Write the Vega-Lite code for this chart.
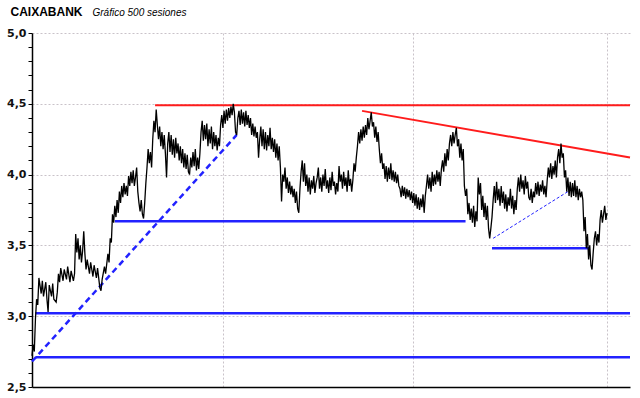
{
  "$schema": "https://vega.github.io/schema/vega-lite/v6.json",
  "autosize": {"type": "none"},
  "padding": {"left": 32, "top": 33, "right": 10, "bottom": 11},
  "width": 598,
  "height": 354,
  "background": "white",
  "config": {"view": {"stroke": null}},
  "datasets": {
    "price": [
      {"s":0,"p":2.72},{"s":1,"p":2.80},{"s":2,"p":2.75},{"s":3,"p":2.98},{"s":4,"p":3.12},{"s":5,"p":3.08},{"s":6,"p":3.27},{"s":8,"p":3.16},{"s":9,"p":3.25},{"s":10,"p":3.14},
      {"s":12,"p":3.24},{"s":13,"p":3.12},{"s":14,"p":3.03},{"s":15,"p":3.22},{"s":17,"p":3.14},{"s":18,"p":3.23},{"s":19,"p":3.12},{"s":21,"p":3.10},{"s":22,"p":3.17},{"s":23,"p":3.30},
      {"s":24,"p":3.24},{"s":25,"p":3.34},{"s":27,"p":3.25},{"s":28,"p":3.33},{"s":30,"p":3.26},{"s":31,"p":3.35},{"s":33,"p":3.24},{"s":34,"p":3.32},{"s":36,"p":3.25},{"s":37,"p":3.30},
      {"s":38,"p":3.58},{"s":39,"p":3.45},{"s":40,"p":3.55},{"s":41,"p":3.40},{"s":42,"p":3.50},{"s":43,"p":3.38},{"s":44,"p":3.46},{"s":45,"p":3.60},{"s":46,"p":3.44},{"s":47,"p":3.33},
      {"s":48,"p":3.40},{"s":50,"p":3.30},{"s":51,"p":3.38},{"s":53,"p":3.28},{"s":54,"p":3.36},{"s":56,"p":3.27},{"s":57,"p":3.34},{"s":59,"p":3.20},{"s":60,"p":3.18},{"s":61,"p":3.26},
      {"s":63,"p":3.35},{"s":64,"p":3.30},{"s":66,"p":3.44},{"s":67,"p":3.38},{"s":68,"p":3.55},{"s":69,"p":3.52},{"s":70,"p":3.72},{"s":71,"p":3.66},{"s":72,"p":3.78},{"s":73,"p":3.70},
      {"s":74,"p":3.82},{"s":75,"p":3.73},{"s":76,"p":3.88},{"s":77,"p":3.80},{"s":78,"p":3.92},{"s":79,"p":3.84},{"s":80,"p":3.94},{"s":81,"p":3.86},{"s":82,"p":3.92},{"s":83,"p":3.85},
      {"s":84,"p":3.99},{"s":85,"p":3.92},{"s":86,"p":4.02},{"s":87,"p":3.94},{"s":88,"p":4.03},{"s":89,"p":3.92},{"s":90,"p":3.98},{"s":91,"p":4.05},{"s":92,"p":3.88},{"s":93,"p":3.80},
      {"s":94,"p":3.74},{"s":95,"p":3.82},{"s":96,"p":3.72},{"s":97,"p":3.69},{"s":98,"p":3.80},{"s":99,"p":3.94},{"s":100,"p":4.05},{"s":101,"p":4.18},{"s":102,"p":4.08},{"s":103,"p":4.16},
      {"s":104,"p":4.05},{"s":105,"p":4.25},{"s":106,"p":4.38},{"s":107,"p":4.30},{"s":108,"p":4.46},{"s":109,"p":4.35},{"s":110,"p":4.25},{"s":111,"p":4.34},{"s":112,"p":4.20},{"s":113,"p":4.30},
      {"s":114,"p":4.18},{"s":115,"p":4.28},{"s":116,"p":4.15},{"s":117,"p":3.98},{"s":118,"p":4.22},{"s":119,"p":4.30},{"s":120,"p":4.16},{"s":121,"p":4.28},{"s":122,"p":4.14},{"s":123,"p":4.25},
      {"s":124,"p":4.12},{"s":125,"p":4.26},{"s":126,"p":4.15},{"s":127,"p":4.22},{"s":128,"p":4.10},{"s":129,"p":4.20},{"s":130,"p":4.08},{"s":131,"p":4.18},{"s":132,"p":4.05},{"s":133,"p":4.15},
      {"s":134,"p":4.04},{"s":135,"p":4.14},{"s":136,"p":4.02},{"s":137,"p":4.00},{"s":138,"p":4.12},{"s":139,"p":4.05},{"s":140,"p":4.16},{"s":141,"p":4.06},{"s":142,"p":4.18},{"s":143,"p":4.03},
      {"s":144,"p":4.12},{"s":145,"p":4.04},{"s":146,"p":4.15},{"s":147,"p":4.30},{"s":148,"p":4.38},{"s":149,"p":4.24},{"s":150,"p":4.35},{"s":151,"p":4.25},{"s":152,"p":4.36},{"s":153,"p":4.20},
      {"s":154,"p":4.32},{"s":155,"p":4.22},{"s":156,"p":4.34},{"s":157,"p":4.18},{"s":158,"p":4.30},{"s":159,"p":4.20},{"s":160,"p":4.28},{"s":161,"p":4.17},{"s":162,"p":4.26},{"s":163,"p":4.20},
      {"s":164,"p":4.35},{"s":165,"p":4.42},{"s":166,"p":4.33},{"s":167,"p":4.45},{"s":168,"p":4.36},{"s":169,"p":4.46},{"s":170,"p":4.38},{"s":171,"p":4.47},{"s":172,"p":4.40},{"s":173,"p":4.48},
      {"s":174,"p":4.42},{"s":175,"p":4.50},{"s":176,"p":4.44},{"s":177,"p":4.30},{"s":178,"p":4.28},{"s":179,"p":4.40},{"s":180,"p":4.45},{"s":181,"p":4.35},{"s":182,"p":4.46},{"s":183,"p":4.36},
      {"s":184,"p":4.44},{"s":185,"p":4.34},{"s":186,"p":4.45},{"s":187,"p":4.35},{"s":188,"p":4.42},{"s":189,"p":4.33},{"s":190,"p":4.40},{"s":191,"p":4.28},{"s":192,"p":4.36},{"s":193,"p":4.27},
      {"s":194,"p":4.34},{"s":195,"p":4.26},{"s":196,"p":4.30},{"s":197,"p":4.12},{"s":198,"p":4.25},{"s":199,"p":4.34},{"s":200,"p":4.20},{"s":201,"p":4.32},{"s":202,"p":4.18},{"s":203,"p":4.30},
      {"s":204,"p":4.17},{"s":205,"p":4.28},{"s":206,"p":4.20},{"s":207,"p":4.33},{"s":208,"p":4.18},{"s":209,"p":4.26},{"s":210,"p":4.16},{"s":211,"p":4.25},{"s":212,"p":4.12},{"s":213,"p":4.22},
      {"s":214,"p":4.10},{"s":215,"p":4.20},{"s":216,"p":4.05},{"s":217,"p":3.81},{"s":218,"p":4.00},{"s":219,"p":3.95},{"s":220,"p":4.05},{"s":221,"p":3.90},{"s":222,"p":3.98},{"s":223,"p":3.87},
      {"s":224,"p":3.95},{"s":225,"p":3.86},{"s":226,"p":3.92},{"s":227,"p":3.84},{"s":228,"p":3.90},{"s":229,"p":3.80},{"s":230,"p":3.88},{"s":231,"p":3.76},{"s":232,"p":3.73},{"s":233,"p":3.90},
      {"s":234,"p":4.02},{"s":235,"p":4.10},{"s":236,"p":3.95},{"s":237,"p":4.08},{"s":238,"p":3.92},{"s":239,"p":4.00},{"s":240,"p":3.88},{"s":241,"p":3.98},{"s":242,"p":3.86},{"s":243,"p":3.96},
      {"s":244,"p":3.90},{"s":245,"p":3.99},{"s":246,"p":3.87},{"s":247,"p":3.94},{"s":248,"p":3.98},{"s":249,"p":4.05},{"s":250,"p":3.90},{"s":251,"p":3.98},{"s":252,"p":3.88},{"s":253,"p":4.00},
      {"s":254,"p":3.92},{"s":255,"p":4.04},{"s":256,"p":3.90},{"s":257,"p":3.96},{"s":258,"p":3.87},{"s":259,"p":3.98},{"s":260,"p":3.89},{"s":261,"p":4.02},{"s":262,"p":3.92},{"s":263,"p":3.95},
      {"s":264,"p":3.86},{"s":265,"p":3.94},{"s":266,"p":3.88},{"s":267,"p":4.06},{"s":268,"p":3.95},{"s":269,"p":4.00},{"s":270,"p":3.90},{"s":271,"p":4.02},{"s":272,"p":3.92},{"s":273,"p":3.98},
      {"s":274,"p":3.88},{"s":275,"p":4.03},{"s":276,"p":3.92},{"s":277,"p":3.97},{"s":278,"p":3.88},{"s":279,"p":3.96},{"s":280,"p":4.08},{"s":281,"p":4.02},{"s":282,"p":4.12},{"s":283,"p":4.20},
      {"s":284,"p":4.30},{"s":285,"p":4.22},{"s":286,"p":4.32},{"s":287,"p":4.24},{"s":288,"p":4.34},{"s":289,"p":4.26},{"s":290,"p":4.35},{"s":291,"p":4.28},{"s":292,"p":4.40},{"s":293,"p":4.32},
      {"s":294,"p":4.38},{"s":295,"p":4.44},{"s":296,"p":4.34},{"s":297,"p":4.37},{"s":298,"p":4.26},{"s":299,"p":4.34},{"s":300,"p":4.23},{"s":301,"p":4.30},{"s":302,"p":4.18},{"s":303,"p":4.08},
      {"s":304,"p":4.15},{"s":305,"p":4.04},{"s":306,"p":4.08},{"s":307,"p":3.97},{"s":308,"p":4.06},{"s":309,"p":3.95},{"s":310,"p":4.05},{"s":311,"p":3.97},{"s":312,"p":4.08},{"s":313,"p":3.96},
      {"s":314,"p":4.03},{"s":315,"p":3.95},{"s":316,"p":4.02},{"s":317,"p":3.94},{"s":318,"p":4.00},{"s":319,"p":3.92},{"s":320,"p":3.90},{"s":321,"p":3.84},{"s":322,"p":3.92},{"s":323,"p":3.85},
      {"s":324,"p":3.91},{"s":325,"p":3.83},{"s":326,"p":3.90},{"s":327,"p":3.84},{"s":328,"p":3.89},{"s":329,"p":3.82},{"s":330,"p":3.88},{"s":331,"p":3.80},{"s":332,"p":3.87},{"s":333,"p":3.78},
      {"s":334,"p":3.86},{"s":335,"p":3.76},{"s":336,"p":3.84},{"s":337,"p":3.75},{"s":338,"p":3.83},{"s":339,"p":3.77},{"s":340,"p":3.86},{"s":341,"p":3.73},{"s":342,"p":3.85},{"s":343,"p":3.92},
      {"s":344,"p":4.00},{"s":345,"p":3.90},{"s":346,"p":3.98},{"s":347,"p":3.88},{"s":348,"p":4.02},{"s":349,"p":3.92},{"s":350,"p":4.00},{"s":351,"p":3.93},{"s":352,"p":4.03},{"s":353,"p":3.95},
      {"s":354,"p":4.02},{"s":355,"p":3.92},{"s":356,"p":4.04},{"s":357,"p":4.10},{"s":358,"p":4.02},{"s":359,"p":4.15},{"s":360,"p":4.06},{"s":361,"p":4.18},{"s":362,"p":4.10},{"s":363,"p":4.22},
      {"s":364,"p":4.28},{"s":365,"p":4.20},{"s":366,"p":4.30},{"s":367,"p":4.22},{"s":368,"p":4.28},{"s":369,"p":4.33},{"s":370,"p":4.20},{"s":371,"p":4.25},{"s":372,"p":4.12},{"s":373,"p":4.22},
      {"s":374,"p":4.10},{"s":375,"p":4.18},{"s":376,"p":3.92},{"s":377,"p":3.85},{"s":378,"p":3.90},{"s":379,"p":3.72},{"s":380,"p":3.80},{"s":381,"p":3.68},{"s":382,"p":3.76},{"s":383,"p":3.66},
      {"s":384,"p":3.78},{"s":385,"p":3.63},{"s":386,"p":3.74},{"s":387,"p":3.67},{"s":388,"p":3.98},{"s":389,"p":3.86},{"s":390,"p":3.94},{"s":391,"p":3.75},{"s":392,"p":3.85},{"s":393,"p":3.70},
      {"s":394,"p":3.80},{"s":395,"p":3.68},{"s":396,"p":3.78},{"s":397,"p":3.62},{"s":398,"p":3.55},{"s":399,"p":3.62},{"s":400,"p":3.70},{"s":401,"p":3.82},{"s":402,"p":3.92},{"s":403,"p":3.80},
      {"s":404,"p":3.95},{"s":405,"p":3.82},{"s":406,"p":3.90},{"s":407,"p":3.78},{"s":408,"p":3.92},{"s":409,"p":3.80},{"s":410,"p":3.88},{"s":411,"p":3.76},{"s":412,"p":3.86},{"s":413,"p":3.74},
      {"s":414,"p":3.84},{"s":415,"p":3.78},{"s":416,"p":3.90},{"s":417,"p":3.76},{"s":418,"p":3.85},{"s":419,"p":3.72},{"s":420,"p":3.82},{"s":421,"p":3.75},{"s":422,"p":3.90},{"s":423,"p":3.98},
      {"s":424,"p":3.88},{"s":425,"p":4.00},{"s":426,"p":3.90},{"s":427,"p":3.96},{"s":428,"p":3.86},{"s":429,"p":3.99},{"s":430,"p":3.90},{"s":431,"p":3.95},{"s":432,"p":3.84},{"s":433,"p":3.82},
      {"s":434,"p":3.90},{"s":435,"p":3.80},{"s":436,"p":3.88},{"s":437,"p":3.84},{"s":438,"p":3.94},{"s":439,"p":3.86},{"s":440,"p":3.95},{"s":441,"p":3.85},{"s":442,"p":3.93},{"s":443,"p":3.88},
      {"s":444,"p":3.96},{"s":445,"p":3.86},{"s":446,"p":3.92},{"s":447,"p":3.84},{"s":448,"p":3.96},{"s":449,"p":4.05},{"s":450,"p":3.98},{"s":451,"p":4.08},{"s":452,"p":3.97},{"s":453,"p":4.06},
      {"s":454,"p":4.00},{"s":455,"p":4.10},{"s":456,"p":3.98},{"s":457,"p":4.12},{"s":458,"p":4.18},{"s":459,"p":4.08},{"s":460,"p":4.22},{"s":461,"p":4.12},{"s":462,"p":4.15},{"s":463,"p":3.98},
      {"s":464,"p":4.03},{"s":465,"p":3.88},{"s":466,"p":3.98},{"s":467,"p":3.85},{"s":468,"p":3.95},{"s":469,"p":3.84},{"s":470,"p":3.94},{"s":471,"p":3.85},{"s":472,"p":3.96},{"s":473,"p":3.84},
      {"s":474,"p":3.92},{"s":475,"p":3.82},{"s":476,"p":3.90},{"s":477,"p":3.84},{"s":478,"p":3.88},{"s":479,"p":3.82},{"s":480,"p":3.60},{"s":481,"p":3.70},{"s":482,"p":3.48},{"s":483,"p":3.58},
      {"s":484,"p":3.40},{"s":485,"p":3.50},{"s":486,"p":3.36},{"s":487,"p":3.33},{"s":488,"p":3.45},{"s":489,"p":3.55},{"s":490,"p":3.60},{"s":491,"p":3.50},{"s":492,"p":3.58},{"s":493,"p":3.52},
      {"s":494,"p":3.68},{"s":495,"p":3.75},{"s":496,"p":3.66},{"s":497,"p":3.72},{"s":498,"p":3.78},{"s":499,"p":3.68},{"s":500,"p":3.73}
    ],
    "trend": [
      {"id":"r1","kind":"red","s":107,"v":4.49},{"id":"r1","kind":"red","s":520,"v":4.49},
      {"id":"r2","kind":"red","s":287,"v":4.45},{"id":"r2","kind":"red","s":520,"v":4.12},
      {"id":"b1","kind":"blue","s":72,"v":3.67},{"id":"b1","kind":"blue","s":377,"v":3.67},
      {"id":"b2","kind":"blue","s":3,"v":3.02},{"id":"b2","kind":"blue","s":520,"v":3.02},
      {"id":"b3","kind":"blue","s":3,"v":2.71},{"id":"b3","kind":"blue","s":520,"v":2.71},
      {"id":"b4","kind":"blue","s":400,"v":3.48},{"id":"b4","kind":"blue","s":485,"v":3.48},
      {"id":"d1","kind":"bdash","s":0,"v":2.68},{"id":"d1","kind":"bdash","s":178,"v":4.28},
      {"id":"t1","kind":"bthin","s":401,"v":3.55},{"id":"t1","kind":"bthin","s":466,"v":3.88}
    ]
  },
  "layer": [
    {
      "data": {"name": "trend"},
      "transform": [{"filter": "datum.kind == 'red'"}],
      "mark": {"type": "line", "color": "#ff1c1c", "strokeWidth": 2},
      "encoding": {
        "x": {
          "field": "s", "type": "quantitative",
          "scale": {"domain": [0, 520], "nice": false, "zero": false},
          "axis": {
            "values": [166, 331, 500],
            "tickCount": 10,
            "labels": false, "ticks": false,
            "grid": true, "gridColor": "#c9c2c9", "gridDash": [2, 2], "gridWidth": 1,
            "domain": true, "domainColor": "#000000", "domainWidth": 1.5,
            "title": "Gráfico 500 sesiones",
            "titleX": 60, "titleY": -372,
            "titleAlign": "left", "titleBaseline": "alphabetic", "titleAngle": 0,
            "titleFont": "Liberation Sans", "titleFontSize": 10, "titleFontStyle": "italic", "titleFontWeight": "normal", "titleColor": "#000000"
          }
        },
        "y": {
          "field": "v", "type": "quantitative",
          "scale": {"domain": [2.5, 5.0], "nice": false, "zero": false},
          "axis": {
            "values": [2.5,2.6,2.7,2.8,2.9,3.0,3.1,3.2,3.3,3.4,3.5,3.6,3.7,3.8,3.9,4.0,4.1,4.2,4.3,4.4,4.5,4.6,4.7,4.8,4.9,5.0],
            "tickCount": 40,
            "labelExpr": "abs(datum.value*2 - round(datum.value*2)) < 0.001 ? replace(format(datum.value, '.1f'), '.', ',') : ''",
            "labelFont": "DejaVu Sans", "labelFontSize": 11, "labelFontWeight": "bold", "labelColor": "#111111", "labelPadding": 2,
            "labelOverlap": false,
            "ticks": true, "tickColor": "#000000", "tickSize": 4, "tickWidth": 1,
            "grid": true, "gridColor": "#c9c2c9", "gridDash": [2, 2], "gridWidth": 1,
            "gridOpacity": {"condition": {"test": "abs(datum.value*2 - round(datum.value*2)) < 0.001 && datum.value > 2.6", "value": 1}, "value": 0},
            "domain": true, "domainColor": "#000000", "domainWidth": 1.5,
            "title": "CAIXABANK",
            "titleX": -22, "titleY": -18,
            "titleAlign": "left", "titleBaseline": "alphabetic", "titleAngle": 0,
            "titleFont": "Liberation Sans", "titleFontSize": 12, "titleFontWeight": "bold", "titleColor": "#000000"
          }
        },
        "detail": {"field": "id"}
      }
    },
    {
      "data": {"name": "trend"},
      "transform": [{"filter": "datum.kind == 'blue'"}],
      "mark": {"type": "line", "color": "#2222ff", "strokeWidth": 2.5},
      "encoding": {
        "x": {"field": "s", "type": "quantitative"},
        "y": {"field": "v", "type": "quantitative"},
        "detail": {"field": "id"}
      }
    },
    {
      "data": {"name": "trend"},
      "transform": [{"filter": "datum.kind == 'bdash'"}],
      "mark": {"type": "line", "color": "#2222ff", "strokeWidth": 2.5, "strokeDash": [6, 4]},
      "encoding": {
        "x": {"field": "s", "type": "quantitative"},
        "y": {"field": "v", "type": "quantitative"},
        "detail": {"field": "id"}
      }
    },
    {
      "data": {"name": "trend"},
      "transform": [{"filter": "datum.kind == 'bthin'"}],
      "mark": {"type": "line", "color": "#2222ff", "strokeWidth": 1, "strokeDash": [3, 2]},
      "encoding": {
        "x": {"field": "s", "type": "quantitative"},
        "y": {"field": "v", "type": "quantitative"},
        "detail": {"field": "id"}
      }
    },
    {
      "data": {"name": "price"},
      "mark": {"type": "line", "color": "#000000", "strokeWidth": 1.3},
      "encoding": {
        "x": {"field": "s", "type": "quantitative"},
        "y": {"field": "p", "type": "quantitative"}
      }
    }
  ]
}
